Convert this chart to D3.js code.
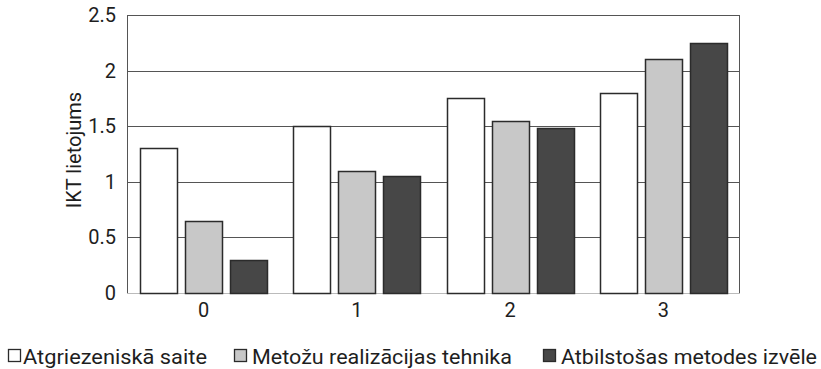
<!DOCTYPE html>
<html>
<head>
<meta charset="utf-8">
<script src="https://cdn.jsdelivr.net/npm/d3@7"></script>
<style>
  html, body { margin: 0; padding: 0; background: #fff; }
  svg { display: block; font-family: Roboto, "Noto Sans", sans-serif; }
</style>
</head>
<body>
<svg id="chart" width="821" height="369"></svg>
<script>
// Categories along the x axis
const categories = ["0", "1", "2", "3"];
// Series names (legend order)
const seriesNames = ["Atgriezeniskā saite", "Metožu realizācijas tehnika", "Atbilstošas metodes izvēle"];
// Values per series, one per category
const feedback = [1.3, 1.5, 1.75, 1.8];
const technique = [0.65, 1.1, 1.55, 2.1];
const methodChoice = [0.3, 1.05, 1.48, 2.25];
// Y axis tick values
const yTicks = [0, 0.5, 1, 1.5, 2, 2.5];
const yLabel = "IKT lietojums";

const seriesValues = [feedback, technique, methodChoice];
const fills = ["#ffffff", "#c8c8c8", "#474747"];
const textColor = "#1e1e1e";

const svg = d3.select("#chart");
const margin = { left: 127, right: 81, top: 15, bottom: 76 };
const W = 821, H = 369;
const x0 = margin.left, x1 = W - margin.right;
const yTop = margin.top, yBot = H - margin.bottom;

const x = d3.scaleBand().domain(categories).range([x0, x1]).paddingInner(0).paddingOuter(0);
const xs = d3.scaleBand().domain(d3.range(seriesNames.length))
  .range([0, x.bandwidth()]).paddingInner(0.178).paddingOuter(0.29);
const y = d3.scaleLinear().domain([0, 2.5]).range([yBot, yTop]);

// Horizontal gridlines
svg.append("g").selectAll("line").data(yTicks.filter(t => t > 0)).join("line")
  .attr("x1", x0).attr("x2", x1)
  .attr("y1", d => Math.round(y(d)) + 0.5).attr("y2", d => Math.round(y(d)) + 0.5)
  .attr("stroke", "#555").attr("stroke-width", 1);

// Baseline
svg.append("line").attr("x1", x0).attr("x2", x1)
  .attr("y1", Math.round(y(0)) + 0.5).attr("y2", Math.round(y(0)) + 0.5)
  .attr("stroke", "#bbb").attr("stroke-width", 1);

// Frame left and right
svg.append("line").attr("x1", x0 + 0.5).attr("x2", x0 + 0.5)
  .attr("y1", y(2.5)).attr("y2", y(0))
  .attr("stroke", "#555");
svg.append("line").attr("x1", x1 - 0.5).attr("x2", x1 - 0.5)
  .attr("y1", y(2.5)).attr("y2", y(0))
  .attr("stroke", "#555");

// Bars
const rows = [];
categories.forEach((c, ci) => {
  seriesValues.forEach((vals, si) => rows.push({ c, si, v: vals[ci] }));
});
svg.append("g").selectAll("rect").data(rows).join("rect")
  .attr("x", d => Math.round(x(d.c) + xs(d.si)) + 0.5)
  .attr("y", d => Math.round(y(d.v)) + 0.5)
  .attr("width", Math.round(xs.bandwidth()))
  .attr("height", d => Math.round(y(0)) - Math.round(y(d.v)))
  .attr("fill", d => fills[d.si])
  .attr("stroke", "#2b2b2b").attr("stroke-width", 1.5);

// Y axis labels
const yAxis = d3.axisLeft(y).tickValues(yTicks).tickSize(0).tickPadding(11)
  .tickFormat(d => String(d));
const gy = svg.append("g").attr("transform", `translate(${x0},0)`).call(yAxis);
gy.select(".domain").remove();
gy.selectAll("text").attr("font-size", 20).attr("fill", textColor)
  .attr("font-family", "Roboto, sans-serif");

// X axis labels
const xAxis = d3.axisBottom(x).tickSize(0).tickPadding(10);
const gx = svg.append("g").attr("transform", `translate(0,${yBot})`).call(xAxis);
gx.select(".domain").remove();
gx.selectAll("text").attr("font-size", 20).attr("fill", textColor)
  .attr("font-family", "Roboto, sans-serif");

// Y axis title
svg.append("text")
  .attr("transform", `translate(81,150) rotate(-90)`)
  .attr("text-anchor", "middle")
  .attr("font-size", 20).attr("fill", textColor)
  .text(yLabel);

// Legend
const legendX = [8, 234, 543];
const legendW = [184, 260, 256];
const lg = svg.append("g").selectAll("g").data(seriesNames).join("g")
  .attr("transform", (d, i) => `translate(${legendX[i]},349)`);
lg.append("rect").attr("x", 0.5).attr("y", 0.5).attr("width", 12).attr("height", 12)
  .attr("fill", (d, i) => fills[i]).attr("stroke", "#2b2b2b").attr("stroke-width", 1.3);
lg.append("text").attr("x", (d, i) => i === 0 ? 15 : 18).attr("y", 15)
  .attr("font-size", 21).attr("fill", textColor)
  .attr("textLength", (d, i) => legendW[i]).attr("lengthAdjust", "spacingAndGlyphs")
  .text(d => d);
</script>
</body>
</html>
